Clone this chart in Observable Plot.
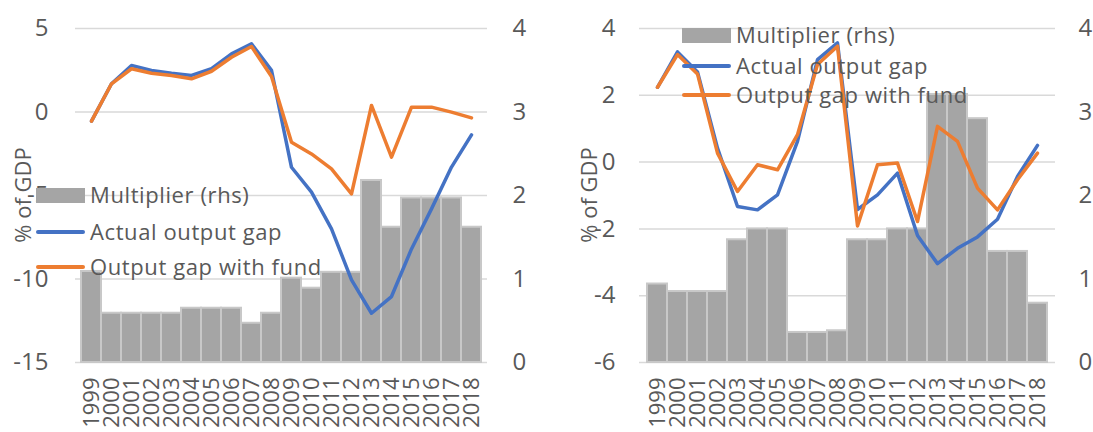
<!DOCTYPE html>
<html>
<head>
<meta charset="utf-8">
<script src="https://cdn.jsdelivr.net/npm/d3@7"></script>
<script src="https://cdn.jsdelivr.net/npm/@observablehq/plot@0.6"></script>
<style>
  html, body { margin: 0; padding: 0; background: #fff; }
  #wrap { position: relative; width: 1093px; height: 432px; overflow: hidden; font-family: "Open Sans", sans-serif; }
  .panel { position: absolute; top: 0; }
  .leg { position: absolute; font-size: 22px; letter-spacing: 0.6px; color: #595959; white-space: nowrap; line-height: 1; }
  .sw { position: absolute; }
  .ytitle { position: absolute; font-size: 22px; color: #595959; white-space: nowrap; transform: translate(-50%, -50%) rotate(-90deg); line-height: 1; }
</style>
</head>
<body>
<div id="wrap"></div>
<script>
const years = ["1999","2000","2001","2002","2003","2004","2005","2006","2007","2008","2009","2010","2011","2012","2013","2014","2015","2016","2017","2018"];

// Left panel
const multLeft   = [1.09, 0.59, 0.59, 0.59, 0.59, 0.65, 0.65, 0.65, 0.47, 0.59, 1.01, 0.89, 1.08, 1.08, 2.18, 1.62, 1.97, 1.97, 1.97, 1.62];
const actualLeft = [-0.55, 1.69, 2.78, 2.49, 2.32, 2.19, 2.59, 3.48, 4.08, 2.49, -3.31, -4.8, -7.0, -10.05, -12.05, -11.05, -8.2, -5.8, -3.3, -1.37];
const fundLeft   = [-0.55, 1.69, 2.59, 2.32, 2.19, 1.99, 2.44, 3.28, 3.92, 2.13, -1.81, -2.51, -3.41, -4.9, 0.39, -2.7, 0.29, 0.29, -0.01, -0.35];
const leftTicksL = [-15, -10, -5, 0, 5];

// Right panel
const multRight   = [0.94, 0.85, 0.85, 0.85, 1.47, 1.6, 1.6, 0.36, 0.36, 0.38, 1.47, 1.47, 1.6, 1.6, 3.21, 3.21, 2.92, 1.33, 1.33, 0.71];
const actualRight = [2.24, 3.3, 2.7, 0.42, -1.33, -1.43, -0.98, 0.62, 3.07, 3.57, -1.42, -0.98, -0.33, -2.2, -3.04, -2.58, -2.24, -1.71, -0.43, 0.5];
const fundRight   = [2.24, 3.22, 2.64, 0.27, -0.88, -0.08, -0.23, 0.82, 2.92, 3.47, -1.91, -0.08, -0.03, -1.78, 1.07, 0.62, -0.78, -1.43, -0.53, 0.27];
const leftTicksR = [-6, -4, -2, 0, 2, 4];

const rhsTicks = [0, 1, 2, 3, 4];
const legendLabels = ["Multiplier (rhs)", "Actual output gap", "Output gap with fund"];
const yTitle = "% of GDP";

const C = {bar: "#a5a5a5", barStroke: "#c8c8c8", blue: "#4472C4", orange: "#ED7D31", grid: "#d9d9d9", text: "#595959"};

function panel({mult, actual, fund, ticks, width, marginLeft, marginRight, padL, padR}) {
  const lo = ticks[0], hi = ticks[ticks.length - 1];
  const toY = m => lo + m * (hi - lo) / 4;
  const fromY = v => Math.round((v - lo) * 4 / (hi - lo));
  const data = years.map((year, i) => ({year, m: mult[i], a: actual[i], f: fund[i]}));
  return Plot.plot({
    width, height: 432,
    marginTop: 28, marginBottom: 70, marginLeft, marginRight,
    x: {type: "band", domain: years, padding: 0, label: null},
    y: {domain: [lo, hi], label: null},
    style: {fontFamily: "Open Sans", fontSize: "24px", color: C.text, background: "transparent", overflow: "visible"},
    marks: [
      Plot.ruleY(ticks, {stroke: C.grid, strokeWidth: 1.5}),
      Plot.barY(data, {x: "year", y1: lo, y2: d => toY(d.m), fill: C.bar, stroke: C.barStroke, strokeWidth: 2}),
      Plot.lineY(data, {x: "year", y: "a", stroke: C.blue, strokeWidth: 3.5}),
      Plot.lineY(data, {x: "year", y: "f", stroke: C.orange, strokeWidth: 3.5}),
      Plot.axisY({anchor: "left", ticks, tickSize: 0, tickPadding: padL, label: null, tickFormat: d => String(d).replace("−", "-")}),
      Plot.axisY({anchor: "right", ticks: rhsTicks.map(toY), tickSize: 0, tickPadding: padR, label: null, tickFormat: v => String(fromY(v))}),
      Plot.axisX({tickRotate: -90, tickSize: 0, tickPadding: 15, fontSize: 22, label: null})
    ]
  });
}

const wrap = document.getElementById("wrap");

function place(el, left) { el.classList.add("panel"); el.style.left = left + "px"; wrap.appendChild(el); }

place(panel({mult: multLeft, actual: actualLeft, fund: fundLeft, ticks: leftTicksL, width: 545, marginLeft: 75, marginRight: 58, padL: 27, padR: 25}), 0);
place(panel({mult: multRight, actual: actualRight, fund: fundRight, ticks: leftTicksR, width: 548, marginLeft: 94, marginRight: 38, padL: 24, padR: 23}), 545);

function title(cx, cy) {
  const d = document.createElement("div");
  d.className = "ytitle"; d.textContent = yTitle;
  d.style.left = cx + "px"; d.style.top = cy + "px";
  wrap.appendChild(d);
}
title(22, 195);
title(588, 195);

function legend(x0, swW, textX, rows) {
  const colors = [C.bar, C.blue, C.orange];
  rows.forEach((cy, i) => {
    const sw = document.createElement("div");
    sw.className = "sw";
    sw.style.left = x0 + "px"; sw.style.width = swW + "px";
    if (i === 0) { sw.style.top = (cy - 7.5) + "px"; sw.style.height = "15px"; sw.style.background = C.bar; }
    else { sw.style.top = (cy - 2) + "px"; sw.style.height = "4px"; sw.style.background = colors[i]; sw.style.borderRadius = "2px"; }
    wrap.appendChild(sw);
    const t = document.createElement("div");
    t.className = "leg"; t.textContent = legendLabels[i];
    t.style.left = textX + "px"; t.style.top = (cy - 12) + "px";
    wrap.appendChild(t);
  });
}
legend(36, 49, 90, [195, 232, 267]);
legend(682, 49, 736, [35, 65.5, 95]);
</script>
</body>
</html>
